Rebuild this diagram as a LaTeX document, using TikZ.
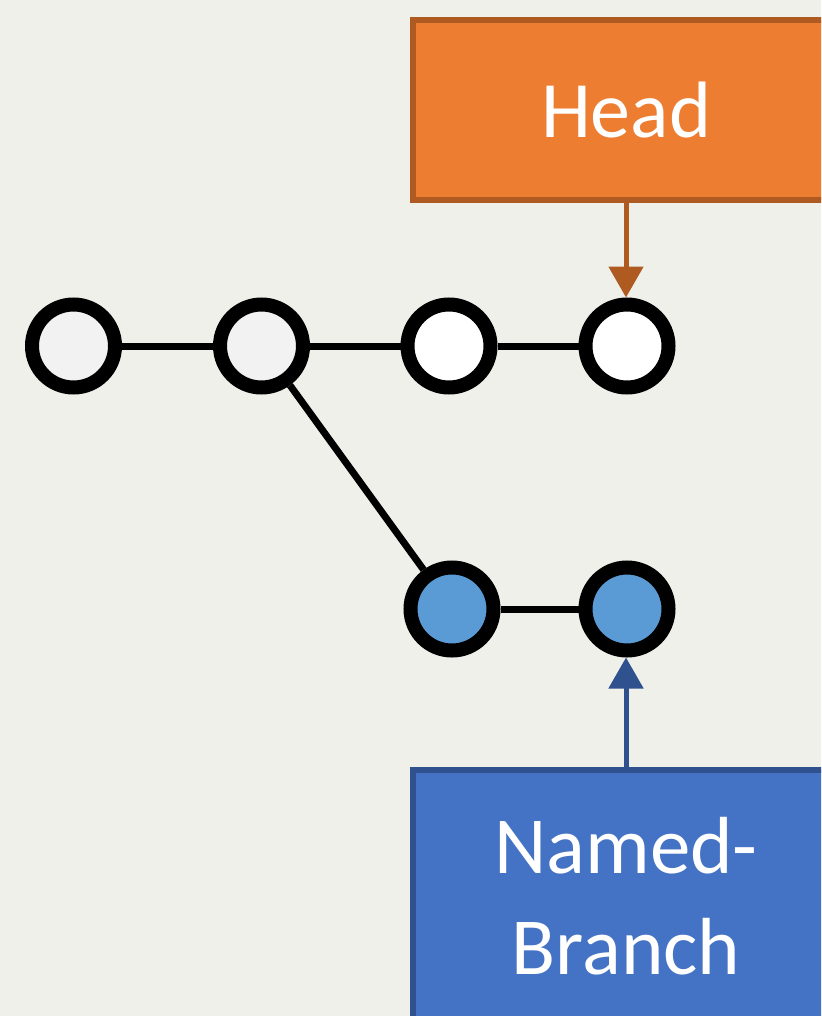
\documentclass[tikz,border=0pt]{standalone}
\usepackage{fontspec}
\setmainfont{Carlito}
\usetikzlibrary{arrows.meta}
\definecolor{bg}{HTML}{F0F0EB}
\definecolor{orfill}{HTML}{ED7D31}
\definecolor{ordraw}{HTML}{AE5A21}
\definecolor{blfill}{HTML}{4472C4}
\definecolor{bldraw}{HTML}{2F528F}
\definecolor{commitblue}{HTML}{5B9BD5}
\definecolor{commitgray}{HTML}{F2F2F2}
\begin{document}
\begin{tikzpicture}[x=1pt,y=-1pt,
  commit/.style={circle,draw=black,line width=14pt,minimum size=83pt,inner sep=0pt},
  link/.style={draw=black,line width=7pt},
  refbox/.style={rectangle,line width=6pt,minimum width=426pt,text=white,inner sep=0pt,
    font=\fontsize{80}{101}\selectfont,align=center},
  pointer/.style={line width=5pt,-{Triangle[width=34pt,length=31pt]}}]
\clip (0,0) rectangle (821,1016);
\fill[bg] (0,0) rectangle (821,1016);
\node[commit,fill=commitgray] (c1) at (73.5,346) {};
\node[commit,fill=commitgray] (c2) at (261.5,346) {};
\node[commit,fill=white] (c3) at (449,346) {};
\node[commit,fill=white] (c4) at (627,346) {};
\node[commit,fill=commitblue] (c5) at (452,609) {};
\node[commit,fill=commitblue] (c6) at (627,609) {};
\draw[link] (c1) -- (c2);
\draw[link] (c2) -- (c3);
\draw[link] (c3) -- (c4);
\draw[link] (c2) -- (c5);
\draw[link] (c5) -- (c6);
\node[refbox,fill=orfill,draw=ordraw,minimum height=180pt] (head) at (626,110) {Head};
\node[refbox,fill=blfill,draw=bldraw,minimum height=252pt,font=\fontsize{81}{101}\selectfont] (branch) at (626,896) {Named-\\Branch};
\draw[pointer,ordraw] (head.south) -- (head.south |- c4.north);
\draw[pointer,bldraw] (branch.north) -- (branch.north |- c6.south);
\end{tikzpicture}
\end{document}
